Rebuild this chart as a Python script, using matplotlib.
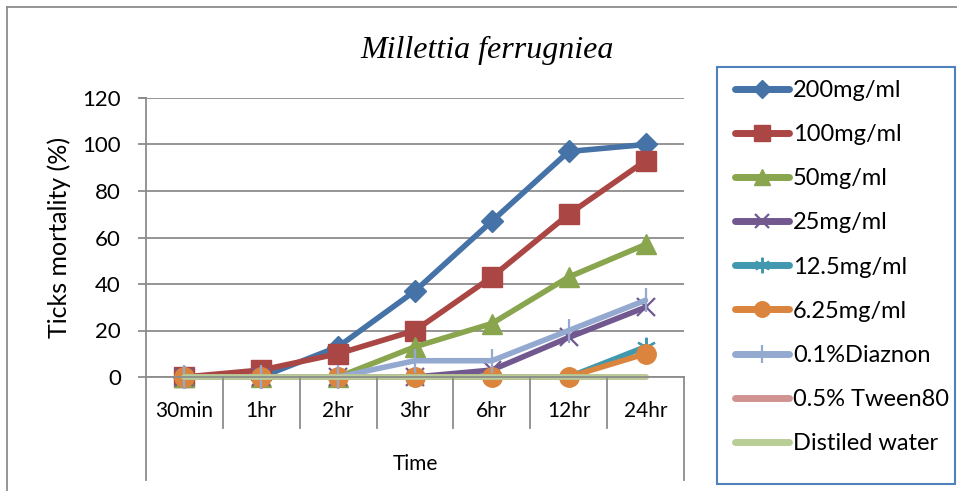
import matplotlib.pyplot as plt
from matplotlib.lines import Line2D
from matplotlib.patches import Rectangle

# Tick mortality over time for each treatment
times = ["30min", "1hr", "2hr", "3hr", "6hr", "12hr", "24hr"]

mort_200 = [0, 0, 13, 37, 67, 97, 100]
mort_100 = [0, 3, 10, 20, 43, 70, 93]
mort_50 = [0, 0, 0, 13, 23, 43, 57]
mort_25 = [0, 0, 0, 0, 3, 17, 30]
mort_12_5 = [0, 0, 0, 0, 0, 0, 13]
mort_6_25 = [0, 0, 0, 0, 0, 0, 10]
mort_diazinon = [0, 0, 0, 7, 7, 20, 33]
mort_tween = [0, 0, 0, 0, 0, 0, 0]
mort_water = [0, 0, 0, 0, 0, 0, 0]

labels = ["200mg/ml", "100mg/ml", "50mg/ml", "25mg/ml", "12.5mg/ml",
          "6.25mg/ml", "0.1%Diaznon", "0.5% Tween80", "Distiled water"]
series = [mort_200, mort_100, mort_50, mort_25, mort_12_5,
          mort_6_25, mort_diazinon, mort_tween, mort_water]

colors = ["#4572A7", "#AA4643", "#89A54E", "#71588F", "#4198AF",
          "#DB843D", "#93A9CF", "#D09392", "#B9CD96"]
markers = ["D", "s", "^", "x", (6, 2, 0), "o", "|", None, None]
msizes = [11, 14, 14, 13, 14, 14, 17, 0, 0]

plt.rcParams['font.family'] = ['Lato', 'DejaVu Sans']
grid_c = "#8C8C8C"

fig = plt.figure(figsize=(9.57, 4.91), dpi=100)
ax = fig.add_axes([146 / 957, 1 - 377 / 491, (684 - 146) / 957, (377 - 98) / 491])

x = list(range(len(times)))
for vals, lab, c, m, ms in zip(series, labels, colors, markers, msizes):
    thin = m in ("x", "|") or isinstance(m, tuple)
    ax.plot(x, vals, color=c, lw=4, marker=m, ms=ms, mew=1.6 if thin else 1,
            label=lab, solid_capstyle="round", clip_on=False)

ax.set_xlim(-0.5, len(times) - 0.5)
ax.set_ylim(0, 120)
ax.set_yticks(range(0, 121, 20))
ax.yaxis.grid(True, color=grid_c, lw=1.3)
ax.set_axisbelow(True)
for s in ["top", "right"]:
    ax.spines[s].set_visible(False)
ax.spines["left"].set_color(grid_c)
ax.spines["left"].set_linewidth(1.3)
ax.spines["bottom"].set_color(grid_c)
ax.spines["bottom"].set_linewidth(1.3)
ax.tick_params(axis="y", length=6, width=1.3, color=grid_c, labelsize=16, pad=12)
ax.set_xticks(x)
ax.set_xticklabels(times, fontsize=15)
ax.tick_params(axis="x", length=0, pad=17)

# category separators below the axis
trans = ax.get_xaxis_transform()
for i in range(len(times) + 1):
    b = i - 0.5
    low = -0.183 if 0 < i < len(times) else -0.37
    ax.add_line(Line2D([b, b], [0, low], transform=trans, color=grid_c,
                       lw=1.3, clip_on=False))
# grid line reaches past the left axis
ax.add_line(Line2D([-0.58, -0.5], [120, 120], color=grid_c, lw=1.3, clip_on=False))

ax.set_xlabel("Time", fontsize=15, labelpad=24)
ax.set_ylabel("Ticks mortality (%)", fontsize=18, labelpad=8)
fig.text(487 / 957, 1 - 50 / 491, "Millettia ferrugniea", fontsize=23,
         style="italic", family="Liberation Serif", ha="center", va="center")

leg = fig.legend(loc="upper left", bbox_to_anchor=(735 / 957, 1 - 80 / 491),
                 frameon=False, fontsize=17, handlelength=2.3,
                 labelspacing=0.98, borderpad=0, handletextpad=0.15,
                 borderaxespad=0, markerscale=0.8)
for h in leg.legend_handles:
    h.set_linewidth(5)
# legend box
fig.add_artist(Rectangle((717 / 957, 1 - 484 / 491), (955 - 717) / 957,
                         (484 - 67) / 491, transform=fig.transFigure,
                         fill=False, edgecolor="#4F81BD", lw=1.5))

# chart outline
fig.add_artist(Line2D([7 / 957, 7 / 957], [0, 1 - 7 / 491], color=grid_c, lw=1.3))
fig.add_artist(Line2D([7 / 957, 1], [1 - 7 / 491, 1 - 7 / 491], color=grid_c, lw=1.3))

fig.savefig("out.png", dpi=100)
